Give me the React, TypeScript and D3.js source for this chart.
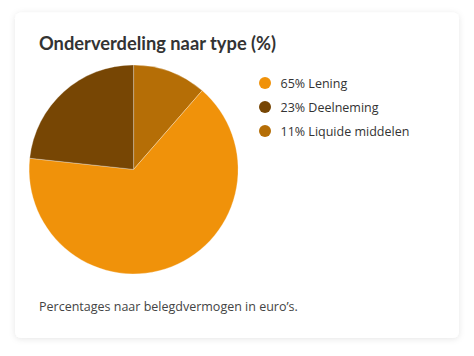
import React from "react";
import * as d3 from "d3";

const categories = ["Lening", "Deelneming", "Liquide middelen"];
const values = [65.3, 23.3, 11.4];
const labels = ["65%", "23%", "11%"];
const colors = ["#F0920A", "#774604", "#B56E06"];
// drawing order clockwise from 12 o'clock
const drawOrder = [2, 0, 1];

const title = "Onderverdeling naar type (%)";
const footnote = "Percentages naar belegdvermogen in euro\u2019s.";

export default function App() {
  const W = 474, H = 356;
  const cx = 133.6, cy = 169.4, r = 104.5;
  const pie = d3.pie<number>().sort(null).value((i) => values[i]);
  const arcs = pie(drawOrder);
  const arc = d3.arc<d3.PieArcDatum<number>>().innerRadius(0).outerRadius(r);
  const legendY = d3.scaleBand<string>().domain(categories).range([71, 143]);
  const titleFont = "Lato, sans-serif";
  const font = "'Open Sans', sans-serif";
  return (
    <svg width={W} height={H} style={{ position: "fixed", left: 0, top: 0, background: "#fff" }}>
      <defs>
        <filter id="sh" x="-10%" y="-10%" width="120%" height="120%">
          <feDropShadow dx="0" dy="1" stdDeviation="3" floodColor="#000" floodOpacity="0.10" />
        </filter>
      </defs>
      <rect x={15} y={12.5} width={444} height={325.5} rx={6} fill="#fff" filter="url(#sh)" />
      <text x={39} y={50} fontFamily={titleFont} fontWeight={700} fontSize={18.3} fill="#333">{title}</text>
      <g transform={`translate(${cx},${cy})`}>
        {arcs.map((a) => (
          <path key={a.data} d={arc(a) as string} fill={colors[a.data]} stroke="#fff" strokeWidth={0.5} strokeOpacity={0.6} />
        ))}
      </g>
      {categories.map((c, i) => {
        const y = (legendY(c) as number) + legendY.bandwidth() / 2;
        return (
          <g key={c}>
            <circle cx={265} cy={y} r={6} fill={colors[i]} />
            <text x={280.5} y={y + 4.5} fontFamily={font} fontSize={12.5} fill="#333">{`${labels[i]} ${c}`}</text>
          </g>
        );
      })}
      <text x={39} y={311} fontFamily={font} fontSize={12.5} fill="#444">{footnote}</text>
    </svg>
  );
}
